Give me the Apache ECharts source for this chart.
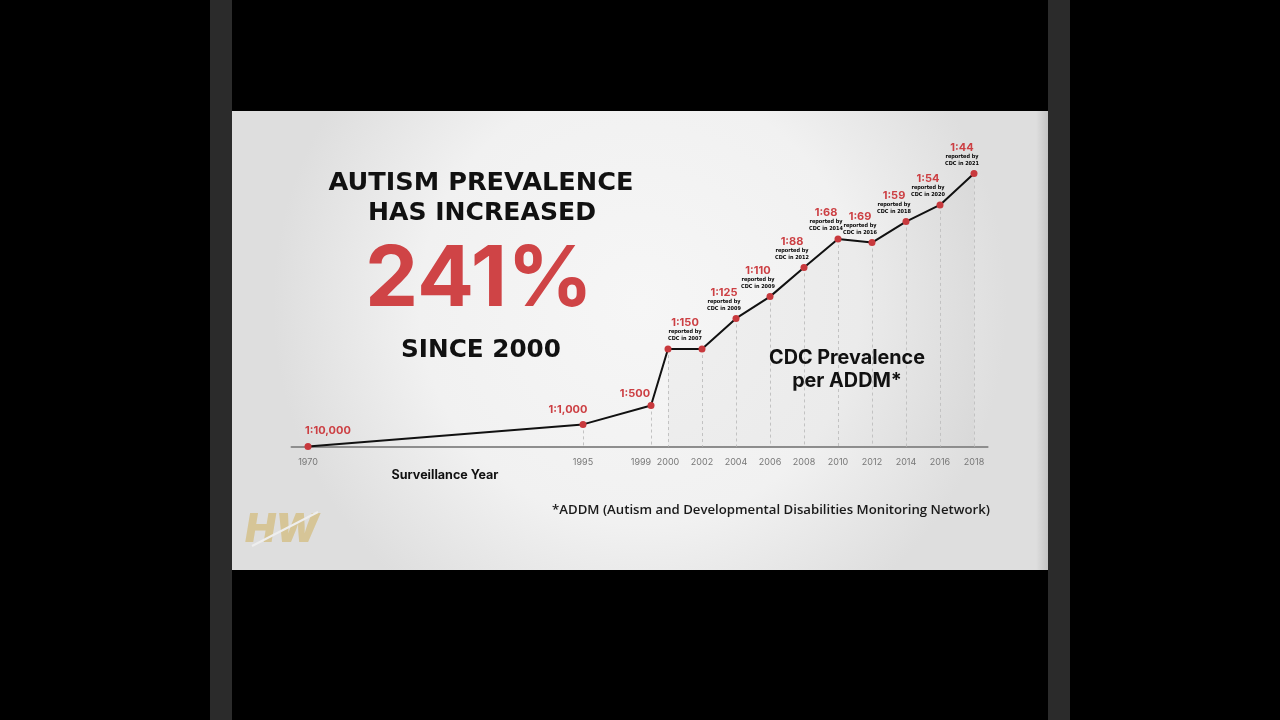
<!DOCTYPE html>
<html>
<head>
<meta charset="utf-8">
<script src="https://cdn.jsdelivr.net/npm/echarts@6/dist/echarts.min.js"></script>
<style>
html,body{margin:0;padding:0;background:#000;}
#chart{width:1280px;height:720px;}
</style>
</head>
<body>
<div id="chart"></div>
<script>
// ---- data ----
const years = [1970, 1995, 1999, 2000, 2002, 2004, 2006, 2008, 2010, 2012, 2014, 2016, 2018];
const ratioLabels = ['1:10,000', '1:1,000', '1:500', '1:150', '1:150', '1:125', '1:110', '1:88', '1:68', '1:69', '1:59', '1:54', '1:44'];
const reportedYear = [null, null, null, 2007, 2007, 2009, 2009, 2012, 2014, 2016, 2018, 2020, 2021];
// plotted height of each point (relative level, 2018 = 100)
const plotLevel = [0, 8.1, 15.0, 35.7, 35.7, 46.9, 54.9, 65.6, 76.0, 74.7, 82.4, 88.5, 100];
const tickYears = [1970, 1995, 1999, 2000, 2002, 2004, 2006, 2008, 2010, 2012, 2014, 2016, 2018];
const breakYear = 1995;
const shadeFrom = 2000;

// ---- texts ----
const headline1 = 'AUTISM PREVALENCE';
const headline2 = 'HAS INCREASED';
const bigNumber = '241%';
const sinceText = 'SINCE 2000';
const seriesTitle1 = 'CDC Prevalence';
const seriesTitle2 = 'per ADDM*';
const axisTitle = 'Surveillance Year';
const footnote = '*ADDM (Autism and Developmental Disabilities Monitoring Network)';

const RED = '#cc3f43';
const HEAD = 'Inter, "DejaVu Sans", sans-serif';
const WIDE = '"DejaVu Sans", Inter, sans-serif';
const NARROW = '"Liberation Sans Narrow", "DejaVu Sans Condensed", "Roboto Condensed", sans-serif';

const mctx = document.createElement('canvas').getContext('2d');
function fit(text, weight, family, target) {
  mctx.font = weight + ' 100px ' + family;
  return 100 * target / mctx.measureText(text).width;
}

function labelFor(i) {
  const y = years[i];
  if (y === 2002) return { show: false };
  if (reportedYear[i] == null) {
    const cfg = { 1970: { align: 'left', offset: [-3, -2] }, 1995: { align: 'center', offset: [-15, -1] }, 1999: { align: 'center', offset: [-16, 2] } }[y];
    return {
      show: true, position: 'top', distance: 5, align: cfg.align, offset: cfg.offset,
      formatter: ratioLabels[i], color: RED, fontSize: 11, fontWeight: 'bold', fontFamily: HEAD
    };
  }
  return {
    show: true, position: 'top', distance: 3, align: 'center',
    offset: [y === 2000 ? 17 : -12, 0],
    formatter: '{r|' + ratioLabels[i] + '}\n{s|reported by}\n{s|CDC in ' + reportedYear[i] + '}',
    rich: {
      r: { fontSize: 11, fontWeight: 'bold', color: RED, fontFamily: HEAD, lineHeight: 11, align: 'center' },
      s: { fontSize: 5.5, fontWeight: 'bold', color: '#000', fontFamily: NARROW, lineHeight: 7, align: 'center' }
    }
  };
}

const leftData = [], rightData = [], shadeData = [], dropLines = [];
years.forEach((y, i) => {
  if (y <= breakYear) {
    leftData.push({ value: [y, plotLevel[i]], symbolSize: y === breakYear ? 0 : 7, label: y === breakYear ? { show: false } : labelFor(i) });
  }
  if (y >= breakYear) {
    rightData.push({ value: [y, plotLevel[i]], symbolSize: 7, label: labelFor(i) });
    dropLines.push([{ coord: [y, plotLevel[i]] }, { coord: [y, 0] }]);
  }
  if (y >= shadeFrom) shadeData.push([y, plotLevel[i]]);
});

const axisCommon = (vals) => ({
  type: 'value',
  axisLine: { show: true, lineStyle: { color: '#8e8e8e', width: 2 } },
  axisTick: { show: false },
  splitLine: { show: false },
  axisLabel: {
    customValues: vals,
    formatter: v => (v === 1999 ? '{l|' + v + '}' : String(v)),
    rich: { l: { color: '#777', fontSize: 9, fontFamily: HEAD, padding: [0, 20, 0, 0] } },
    color: '#777', fontSize: 9, fontFamily: HEAD, margin: 11
  }
});

const yAxisCommon = { type: 'value', min: 0, max: 100, show: false };

const fHead = fit(headline1, 'bold', WIDE, 305);
const fHead2 = fit(headline2, 'bold', WIDE, 228);
const fBig = fit(bigNumber, 'bold', HEAD, 228);
const fSince = fit(sinceText, 'bold', WIDE, 160);
const fCdc = fit(seriesTitle1, 'bold', HEAD, 156);
const fAxisT = fit(axisTitle, 'bold', HEAD, 107);
const fFoot = fit(footnote, '600', '"Open Sans", sans-serif', 438);

function txt(text, x, y, size, color, weight, family, fontStyle) {
  return {
    type: 'text', x: x, y: y, z: 10,
    style: { text: text, fill: color, fontSize: size, fontWeight: weight, fontStyle: fontStyle || 'normal', fontFamily: family, align: 'center', verticalAlign: 'middle' }
  };
}

const chart = echarts.init(document.getElementById('chart'));
chart.setOption({
  backgroundColor: '#000',
  animation: false,
  graphic: [
    { type: 'rect', z: 0, shape: { x: 210, y: 0, width: 22, height: 720 }, style: { fill: '#2b2b2b' } },
    { type: 'rect', z: 0, shape: { x: 1048, y: 0, width: 22, height: 720 }, style: { fill: '#2b2b2b' } },
    { type: 'rect', z: 0, shape: { x: 232, y: 111, width: 816, height: 459 },
      style: { fill: { type: 'radial', x: 0.5, y: 0.42, r: 0.8, colorStops: [
        { offset: 0, color: '#f6f6f6' }, { offset: 0.6, color: '#f1f1f1' }, { offset: 1, color: '#dedede' } ] } } },
    { type: 'rect', z: 0, shape: { x: 1036, y: 111, width: 12, height: 459 },
      style: { fill: { type: 'linear', x: 0, y: 0, x2: 1, y2: 0, colorStops: [
        { offset: 0, color: 'rgba(0,0,0,0)' }, { offset: 1, color: 'rgba(0,0,0,0.12)' } ] } } },
    txt(headline1, 481, 183, fHead, '#111', 'bold', WIDE),
    txt(headline2, 482, 213, fHead2, '#111', 'bold', WIDE),
    txt(bigNumber, 479, 281, fBig, '#cf4446', 'bold', HEAD),
    txt(sinceText, 481, 351, fSince, '#111', 'bold', WIDE),
    txt(seriesTitle1, 847, 358, fCdc, '#111', 'bold', HEAD),
    txt(seriesTitle2, 847, 381, fCdc, '#111', 'bold', HEAD),
    txt(axisTitle, 445, 475, fAxisT, '#111', 'bold', HEAD),
    txt(footnote, 771, 510, fFoot, '#1a1a1a', '600', '"Open Sans", sans-serif'),
    txt('HW', 282, 530, 40, '#d6c597', '900', HEAD, 'italic'),
    { type: 'line', z: 11, shape: { x1: 252, y1: 546, x2: 318, y2: 512 }, style: { stroke: '#eeeeee', lineWidth: 2 } }
  ],
  grid: [
    { left: 291.5, width: 291.5, top: 173.5, bottom: 273.5 },
    { left: 583, width: 404.6, top: 173.5, bottom: 273.5 }
  ],
  xAxis: [
    Object.assign(axisCommon(tickYears.filter(y => y < breakYear)), { gridIndex: 0, min: 1968.5, max: breakYear }),
    Object.assign(axisCommon(tickYears.filter(y => y >= breakYear)), { gridIndex: 1, min: breakYear, max: 2018.8 })
  ],
  yAxis: [
    Object.assign({ gridIndex: 0 }, yAxisCommon),
    Object.assign({ gridIndex: 1 }, yAxisCommon)
  ],
  series: [
    {
      type: 'line', xAxisIndex: 1, yAxisIndex: 1, data: shadeData, symbol: 'none', silent: true, z: 1,
      lineStyle: { opacity: 0 }, areaStyle: { color: 'rgba(0,0,0,0.035)' }
    },
    {
      type: 'line', xAxisIndex: 0, yAxisIndex: 0, data: leftData, clip: false, z: 3,
      symbol: 'circle', itemStyle: { color: '#c8393d' }, lineStyle: { color: '#111', width: 2 }
    },
    {
      type: 'line', xAxisIndex: 1, yAxisIndex: 1, data: rightData, clip: false, z: 3,
      symbol: 'circle', itemStyle: { color: '#c8393d' }, lineStyle: { color: '#111', width: 2 },
      markLine: {
        silent: true, symbol: ['none', 'none'], label: { show: false }, z: 2,
        lineStyle: { type: [3, 3], color: '#c2c2c2', width: 1 },
        data: dropLines
      }
    }
  ]
});
</script>
</body>
</html>
